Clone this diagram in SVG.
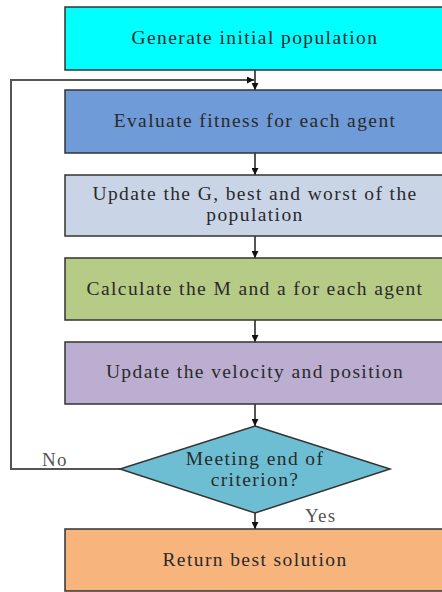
<svg xmlns="http://www.w3.org/2000/svg" width="442" height="592" viewBox="0 0 442 592">
<style>
.box{stroke:#333;stroke-width:1.5}
.t{font-family:"Liberation Serif","DejaVu Serif",serif;font-size:19.5px;letter-spacing:1.4px;fill:#2a2a2a;text-anchor:middle}
.lbl{font-family:"Liberation Serif","DejaVu Serif",serif;font-size:19px;letter-spacing:1.2px;fill:#555}
.c{stroke:#555;stroke-width:2;fill:none}
</style>
<defs>
<marker id="ah" viewBox="0 0 10 10" refX="10" refY="5" markerWidth="7" markerHeight="7" orient="auto" markerUnits="userSpaceOnUse">
<path d="M0,0 L10,5 L0,10 z" fill="#111"/>
</marker>
</defs>
<rect width="442" height="592" fill="#fff"/>
<g id="connectors">
<line class="c" x1="255" y1="70" x2="255" y2="90" marker-end="url(#ah)"/>
<polyline class="c" points="120,469 11,469 11,80 254,80" marker-end="url(#ah)"/>
<line class="c" x1="255" y1="153" x2="255" y2="175" marker-end="url(#ah)"/>
<line class="c" x1="255" y1="236" x2="255" y2="258" marker-end="url(#ah)"/>
<line class="c" x1="255" y1="320" x2="255" y2="342" marker-end="url(#ah)"/>
<line class="c" x1="255" y1="404" x2="255" y2="426" marker-end="url(#ah)"/>
<line class="c" x1="255" y1="513" x2="255" y2="529" marker-end="url(#ah)"/>
<text class="lbl" x="42" y="466">No</text>
<text class="lbl" x="305" y="522">Yes</text>
</g>
<g id="n1"><rect class="box" x="65" y="7" width="390" height="63" fill="#00FFFF"/><text class="t" x="255" y="44">Generate initial population</text></g>
<g id="n2"><rect class="box" x="65" y="90" width="390" height="63" fill="#6F9BD8"/><text class="t" x="255" y="127">Evaluate fitness for each agent</text></g>
<g id="n3"><rect class="box" x="65" y="175" width="390" height="61" fill="#C9D5E6"/><text class="t" x="255" y="200">Update the G, best and worst of the</text><text class="t" x="255" y="221">population</text></g>
<g id="n4"><rect class="box" x="65" y="258" width="390" height="62" fill="#B6CB86"/><text class="t" x="255" y="295">Calculate the M and a for each agent</text></g>
<g id="n5"><rect class="box" x="65" y="342" width="390" height="62" fill="#BBAED1"/><text class="t" x="255" y="378">Update the velocity and position</text></g>
<g id="n6"><polygon class="box" points="255,426 390,469 255,513 120,469" fill="#6DBED3"/><text class="t" x="255" y="465">Meeting end of</text><text class="t" x="255" y="486">criterion?</text></g>
<g id="n7"><rect class="box" x="65" y="529" width="390" height="62" fill="#F7B57D"/><text class="t" x="255" y="566">Return best solution</text></g>
</svg>
